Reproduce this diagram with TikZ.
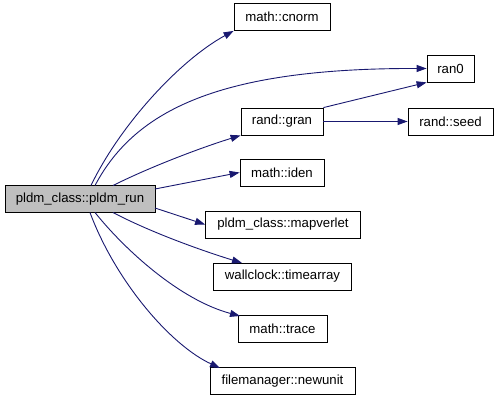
\documentclass[tikz,border=0pt]{standalone}
\usepackage{fontspec}
\setmainfont{Liberation Sans}
\usetikzlibrary{arrows.meta}
\definecolor{edgeblue}{HTML}{191970}
\begin{document}
\begin{tikzpicture}[x=1pt,y=-1pt,
  box/.style={draw=black,line width=0.8pt,fill=white,inner sep=0pt,minimum height=27pt,font=\fontsize{13.2}{15}\selectfont,anchor=center},
  edge/.style={draw=edgeblue,line width=0.9pt,-{Triangle[length=10pt,width=7pt]}}]
\useasboundingbox (0,0) rectangle (499,401);
\node[box,fill=gray!50,minimum width=150pt] (run) at (80,199) {pldm\_class::pldm\_run};
\node[box,minimum width=96pt] (cnorm) at (282,17) {math::cnorm};
\node[box,minimum width=47pt] (ran0) at (450.5,68.5) {ran0};
\node[box,minimum width=82pt] (gran) at (282,121.5) {rand::gran};
\node[box,minimum width=85pt] (seed) at (450.5,121.5) {rand::seed};
\node[box,minimum width=84pt] (iden) at (282,172.5) {math::iden};
\node[box,minimum width=155pt] (map) at (283,224.5) {pldm\_class::mapverlet};
\node[box,minimum width=138pt] (time) at (282.5,276.5) {wallclock::timearray};
\node[box,minimum width=89pt] (trace) at (282.5,328.5) {math::trace};
\node[box,minimum width=145pt] (newu) at (282.5,381) {filemanager::newunit};
\draw[edge] (91,185.5) .. controls (120,125) and (180,60) .. (cnorm.south west);
\draw[edge] (95,185.5) .. controls (135,110) and (220,68) .. (ran0.west);
\draw[edge] (113,185.5) .. controls (150,167) and (200,148) .. (gran.south west);
\draw[edge] (155,189) -- (iden.west);
\draw[edge] (155,208) -- (map.west);
\draw[edge] (113,212.5) .. controls (150,232) and (200,250) .. (242,263);
\draw[edge] (95,212.5) .. controls (125,250) and (180,300) .. (240,316);
\draw[edge] (90,212.5) .. controls (115,280) and (170,345) .. (220,368);
\draw[edge] (gran.north east) -- (ran0.south west);
\draw[edge] (gran.east) -- (seed.west);
\end{tikzpicture}
\end{document}
